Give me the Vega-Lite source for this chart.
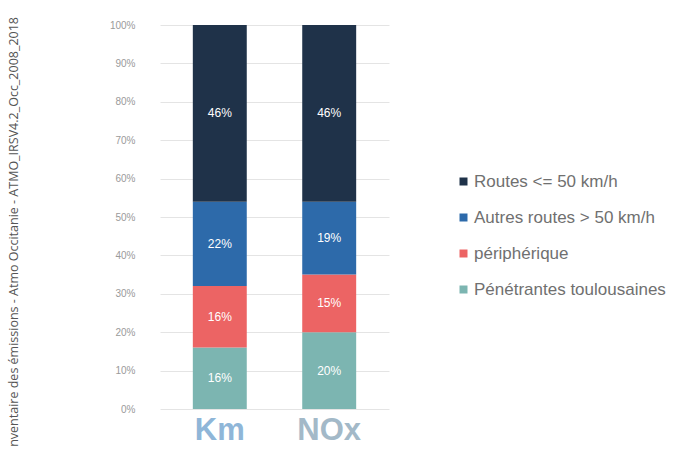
{
  "$schema": "https://vega.github.io/schema/vega-lite/v6.json",
  "autosize": {"type": "none"},
  "width": 229,
  "height": 384,
  "padding": {"left": 160, "top": 25, "right": 284, "bottom": 52},
  "background": "white",
  "title": {
    "text": "nventaire des émissions - Atmo Occitanie - ATMO_IRSV4.2_Occ_2008_2018",
    "orient": "left",
    "anchor": "end",
    "offset": 89,
    "fontSize": 12.5,
    "font": "Open Sans",
    "fontWeight": "normal",
    "color": "#555555",
    "dx": 3
  },
  "config": {
    "view": {"stroke": null},
    "font": "Liberation Sans"
  },
  "data": {
    "values": [
      {"cat": "Km", "type": "Pénétrantes toulousaines", "k": 1, "value": 0.16},
      {"cat": "Km", "type": "périphérique", "k": 2, "value": 0.16},
      {"cat": "Km", "type": "Autres routes > 50 km/h", "k": 3, "value": 0.22},
      {"cat": "Km", "type": "Routes <= 50 km/h", "k": 4, "value": 0.46},
      {"cat": "NOx", "type": "Pénétrantes toulousaines", "k": 1, "value": 0.20},
      {"cat": "NOx", "type": "périphérique", "k": 2, "value": 0.15},
      {"cat": "NOx", "type": "Autres routes > 50 km/h", "k": 3, "value": 0.19},
      {"cat": "NOx", "type": "Routes <= 50 km/h", "k": 4, "value": 0.46}
    ]
  },
  "transform": [
    {"stack": "value", "groupby": ["cat"], "sort": [{"field": "k", "order": "ascending"}], "as": ["y0", "y1"]},
    {"calculate": "(datum.y0 + datum.y1) / 2", "as": "ymid"}
  ],
  "encoding": {
    "x": {
      "field": "cat",
      "type": "nominal",
      "sort": ["Km", "NOx"],
      "scale": {"paddingInner": 0.507, "paddingOuter": 0.3},
      "axis": {
        "title": null,
        "domain": false,
        "ticks": false,
        "labelAngle": 0,
        "labelPadding": 6,
        "labelFontSize": 31,
        "labelFontWeight": "bold",
        "labelFont": "Liberation Sans",
        "labelColor": {"condition": {"test": "datum.value == 'Km'", "value": "#8fb6d8"}, "value": "#a3b9c8"}
      }
    }
  },
  "layer": [
    {
      "mark": {"type": "bar"},
      "encoding": {
        "y": {
          "field": "y0",
          "type": "quantitative",
          "scale": {"domain": [0, 1]},
          "axis": {
            "title": null,
            "values": [0, 0.1, 0.2, 0.3, 0.4, 0.5, 0.6, 0.7, 0.8, 0.9, 1],
            "format": ".0%",
            "labelOverlap": false,
            "domain": false,
            "ticks": false,
            "labelPadding": 25,
            "labelFontSize": 10,
            "labelColor": "#9a9a9a",
            "gridColor": "#e4e4e4",
            "gridWidth": 1
          }
        },
        "y2": {"field": "y1"},
        "color": {
          "field": "type",
          "type": "nominal",
          "scale": {
            "domain": ["Routes <= 50 km/h", "Autres routes > 50 km/h", "périphérique", "Pénétrantes toulousaines"],
            "range": ["#1f3249", "#2d6aaa", "#ec6464", "#7cb5b1"]
          },
          "legend": {
            "title": null,
            "orient": "none",
            "legendX": 295,
            "legendY": 148,
            "symbolType": "square",
            "symbolSize": 64,
            "symbolStrokeWidth": 0,
            "labelFontSize": 17,
            "labelColor": "#707070",
            "labelFont": "Liberation Sans",
            "rowPadding": 18,
            "labelOffset": 2,
            "labelLimit": 400
          }
        }
      }
    },
    {
      "mark": {"type": "text", "color": "white", "fontSize": 12, "font": "Liberation Sans"},
      "encoding": {
        "y": {
          "field": "ymid",
          "type": "quantitative",
          "axis": {
            "title": null,
            "values": [0, 0.1, 0.2, 0.3, 0.4, 0.5, 0.6, 0.7, 0.8, 0.9, 1],
            "format": ".0%",
            "labelOverlap": false,
            "domain": false,
            "ticks": false,
            "labelPadding": 25,
            "labelFontSize": 10,
            "labelColor": "#9a9a9a",
            "gridColor": "#e4e4e4",
            "gridWidth": 1
          }
        },
        "text": {"field": "value", "type": "quantitative", "format": ".0%"},
        "detail": {"field": "type"}
      }
    }
  ]
}
